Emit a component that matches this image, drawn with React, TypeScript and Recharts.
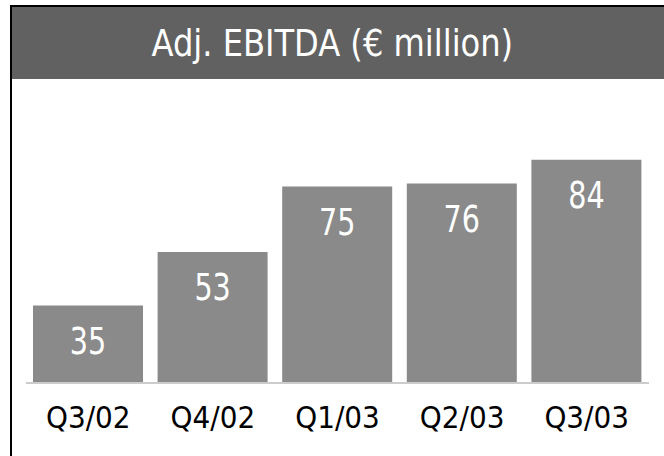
import React from 'react';
import { BarChart, Bar, XAxis, YAxis, LabelList } from 'recharts';

const quarters = ['Q3/02', 'Q4/02', 'Q1/03', 'Q2/03', 'Q3/03'];
const ebitda = [35, 53, 75, 76, 84];

const data = quarters.map((q, i) => ({ name: q, value: ebitda[i] }));

const FONT = '"DejaVu Sans Condensed", "DejaVu Sans", sans-serif';

const ValueLabel = (props: any) => {
  const { x, y, width, value } = props;
  const cx = x + width / 2;
  const by = y + 48;
  return (
    <text
      x={cx}
      y={by}
      textAnchor="middle"
      fill="#ffffff"
      fontSize={37}
      fontFamily={FONT}
      transform={`translate(${cx} 0) scale(0.86 1) translate(${-cx} 0)`}
    >
      {value}
    </text>
  );
};

export default function App() {
  return (
    <div style={{ position: 'absolute', left: 0, top: 0, width: 664, height: 456, background: '#fff', overflow: 'hidden' }}>
      {/* frame: only top and left edges are visible */}
      <div
        style={{
          position: 'absolute', left: 10, top: 5, width: 700, height: 500,
          borderLeft: '2px solid #000', borderTop: '2px solid #000'
        }}
      />
      <div
        style={{
          position: 'absolute', left: 12, top: 7, width: 652, height: 72,
          background: '#616161', color: '#fff', fontFamily: FONT, fontSize: 38,
          lineHeight: '72px', textAlign: 'center'
        }}
      >
        <span style={{ display: 'inline-block', position: 'relative', left: -6, transform: 'scaleX(0.94)' }}>
          Adj. EBITDA (€ million)
        </span>
      </div>
      <div style={{ position: 'absolute', left: 0, top: 0 }}>
        <BarChart width={664} height={456} data={data} margin={{ top: 130, right: 15, left: 26, bottom: 0 }} barSize={110}>
          <YAxis hide domain={[9, 94]} />
          <XAxis
            dataKey="name"
            height={73}
            axisLine={{ stroke: '#cccccc', strokeWidth: 2 }}
            tickLine={false}
            tickMargin={17}
            interval={0}
            tick={{ fill: '#000', fontSize: 31, fontFamily: FONT }}
          />
          <Bar dataKey="value" fill="#8a8a8a" isAnimationActive={false}>
            <LabelList dataKey="value" content={ValueLabel} />
          </Bar>
        </BarChart>
      </div>
    </div>
  );
}
